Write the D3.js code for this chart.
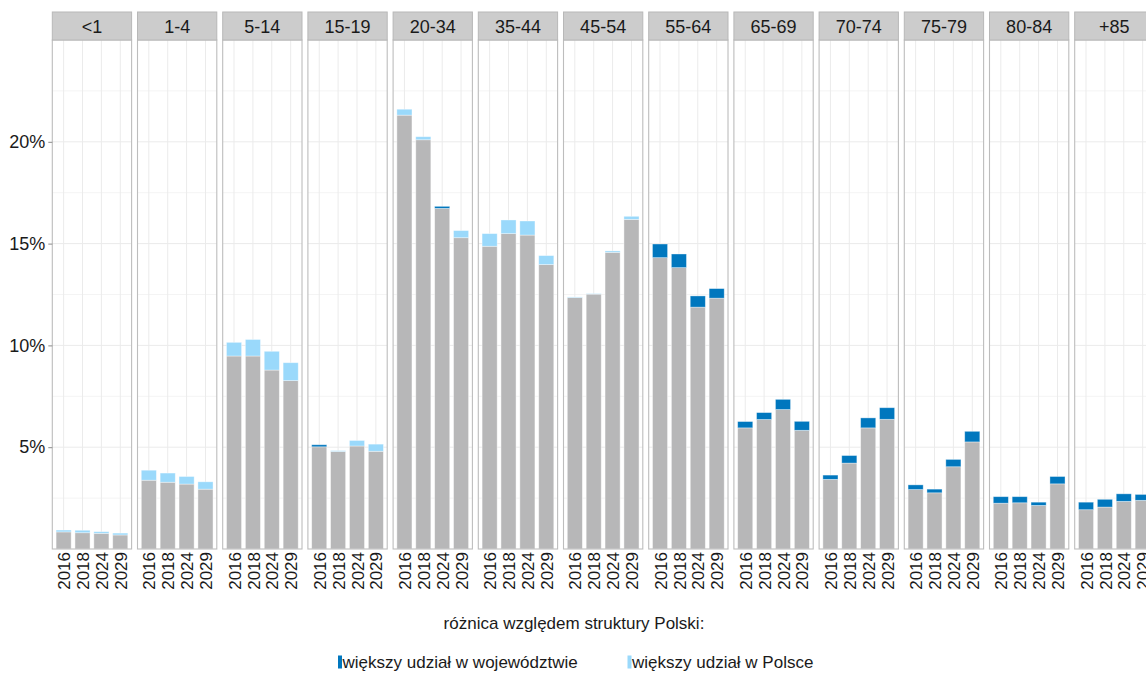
<!DOCTYPE html>
<html>
<head>
<meta charset="utf-8">
<script src="https://cdn.jsdelivr.net/npm/d3@7"></script>
<style>
  html, body { margin: 0; padding: 0; background: #fff; overflow: hidden; }
  svg { display: block; font-family: "Liberation Sans", Arial, sans-serif; }
</style>
</head>
<body>
<svg id="chart" width="1146" height="673"></svg>
<script>
// ---- data (percent shares) ----
const ageGroups = ["<1","1-4","5-14","15-19","20-34","35-44","45-54","55-64","65-69","70-74","75-79","80-84","+85"];
const years = ["2016","2018","2024","2029"];
// share of the age group in the voivodeship population (%)
const wojewodztwo = [
  [0.84, 0.80, 0.77, 0.69],
  [3.38, 3.28, 3.19, 2.94],
  [9.48, 9.48, 8.79, 8.27],
  [5.12, 4.79, 5.06, 4.80],
  [21.31, 20.10, 16.83, 15.29],
  [14.87, 15.49, 15.42, 13.97],
  [12.35, 12.52, 14.57, 16.19],
  [14.98, 14.49, 12.43, 12.79],
  [6.26, 6.70, 7.35, 6.27],
  [3.63, 4.59, 6.44, 6.94],
  [3.15, 2.94, 4.40, 5.78],
  [2.57, 2.57, 2.30, 3.56],
  [2.30, 2.44, 2.71, 2.68]
];
// share of the age group in the population of Poland (%)
const polska = [
  [0.93, 0.92, 0.85, 0.78],
  [3.87, 3.73, 3.56, 3.30],
  [10.15, 10.29, 9.71, 9.15],
  [5.02, 4.83, 5.33, 5.15],
  [21.60, 20.25, 16.73, 15.64],
  [15.49, 16.16, 16.11, 14.41],
  [12.38, 12.54, 14.64, 16.34],
  [14.31, 13.82, 11.88, 12.32],
  [5.95, 6.36, 6.85, 5.83],
  [3.42, 4.22, 5.95, 6.37],
  [2.92, 2.76, 4.04, 5.26],
  [2.25, 2.27, 2.14, 3.20],
  [1.93, 2.06, 2.34, 2.39]
];
const yTicks = [0.05, 0.10, 0.15, 0.20];
const legendTitle = "różnica względem struktury Polski:";
const legendLabels = ["większy udział w województwie", "większy udział w Polsce"];

// ---- styles ----
const colGray = "#b7b7b8";
const colDark = "#0077be";
const colLight = "#9ad9fb";

const svg = d3.select("#chart");
const panelTop = 40, panelBottom = 549;

const facet = d3.scaleBand().domain(ageGroups).range([52.3, 1154]).paddingInner(0.0692).paddingOuter(0);
const pw = facet.bandwidth();
const x = d3.scalePoint().domain(years).range([0, pw]).padding(0.6);
const barW = x.step() * 0.8;
const y = d3.scaleLinear().domain([0, 0.25]).range([panelBottom, panelTop]);

const rows = [];
ageGroups.forEach((g, gi) => years.forEach((yr, yi) => {
  const w = wojewodztwo[gi][yi] / 100, p = polska[gi][yi] / 100;
  rows.push({ group: g, year: yr, base: Math.min(w, p), top: Math.max(w, p), wojBigger: w > p });
}));

ageGroups.forEach(g => {
  const gp = svg.append("g").attr("transform", `translate(${facet(g)},0)`);
  // panel background and grid
  gp.append("rect").attr("x", 0).attr("y", panelTop).attr("width", pw).attr("height", panelBottom - panelTop).attr("fill", "#fff");
  const minor = d3.range(0.025, 0.25, 0.05);
  gp.selectAll(".minor").data(minor).enter().append("line")
    .attr("x1", 0).attr("x2", pw).attr("y1", d => y(d)).attr("y2", d => y(d))
    .attr("stroke", "#f4f4f4").attr("stroke-width", 1);
  gp.selectAll(".major").data([0.05, 0.10, 0.15, 0.20]).enter().append("line")
    .attr("x1", 0).attr("x2", pw).attr("y1", d => y(d)).attr("y2", d => y(d))
    .attr("stroke", "#ebebeb").attr("stroke-width", 1);
  gp.selectAll(".vgrid").data(years).enter().append("line")
    .attr("x1", d => x(d)).attr("x2", d => x(d)).attr("y1", panelTop).attr("y2", panelBottom)
    .attr("stroke", "#ebebeb").attr("stroke-width", 1);

  const data = rows.filter(r => r.group === g);
  gp.selectAll(".base").data(data).enter().append("rect")
    .attr("x", d => x(d.year) - barW / 2).attr("width", barW)
    .attr("y", d => y(d.base)).attr("height", d => y(0) - y(d.base))
    .attr("fill", colGray).attr("stroke", "rgba(255,255,255,0.55)").attr("stroke-width", 0.8);
  gp.selectAll(".diff").data(data).enter().append("rect")
    .attr("x", d => x(d.year) - barW / 2).attr("width", barW)
    .attr("y", d => y(d.top)).attr("height", d => y(d.base) - y(d.top))
    .attr("fill", d => d.wojBigger ? colDark : colLight)
    .attr("stroke", "rgba(255,255,255,0.45)").attr("stroke-width", 0.8);

  // panel border
  gp.append("rect").attr("x", 0).attr("y", panelTop).attr("width", pw).attr("height", panelBottom - panelTop)
    .attr("fill", "none").attr("stroke", "#bdbdbd").attr("stroke-width", 1.1);
  // strip
  gp.append("rect").attr("x", 0).attr("y", 12).attr("width", pw).attr("height", panelTop - 12)
    .attr("fill", "#cccccc").attr("stroke", "#b8b8b8").attr("stroke-width", 1);
  gp.append("text").attr("x", pw / 2).attr("y", 32.5).attr("text-anchor", "middle")
    .attr("font-size", 18).attr("fill", "#1a1a1a").text(g);

  // x axis labels (rotated)
  const xa = gp.append("g").attr("transform", `translate(0,${panelBottom})`)
    .call(d3.axisBottom(x).tickSize(0).tickPadding(0));
  xa.select(".domain").remove();
  xa.selectAll("text")
    .attr("font-size", 17).attr("font-family", "Liberation Sans, Arial, sans-serif").attr("fill", "#1a1a1a")
    .attr("text-anchor", "end").attr("dy", "0.36em").attr("y", 0)
    .attr("transform", "translate(0,3) rotate(-90)").attr("x", 0);
});

// y axis
const ya = svg.append("g").attr("transform", `translate(${facet(ageGroups[0])},0)`)
  .call(d3.axisLeft(y).tickValues(yTicks).tickFormat(d3.format(".0%")).tickSize(4).tickPadding(3));
ya.select(".domain").remove();
ya.selectAll(".tick line").attr("stroke", "#8a8a8a");
ya.selectAll("text").attr("font-size", 18).attr("font-family", "Liberation Sans, Arial, sans-serif").attr("fill", "#1a1a1a");

// legend
svg.append("text").attr("x", 574).attr("y", 629).attr("text-anchor", "middle")
  .attr("font-size", 17).attr("fill", "#1a1a1a").text(legendTitle);
const legendX = [338, 627.5];
const legendCols = [colDark, colLight];
legendLabels.forEach((lab, i) => {
  svg.append("rect").attr("x", legendX[i]).attr("y", 655.5).attr("width", 4).attr("height", 13)
    .attr("fill", legendCols[i]);
  svg.append("text").attr("x", legendX[i] + 4.5).attr("y", 668).attr("font-size", 17)
    .attr("fill", "#1a1a1a").text(lab);
});
</script>
</body>
</html>
